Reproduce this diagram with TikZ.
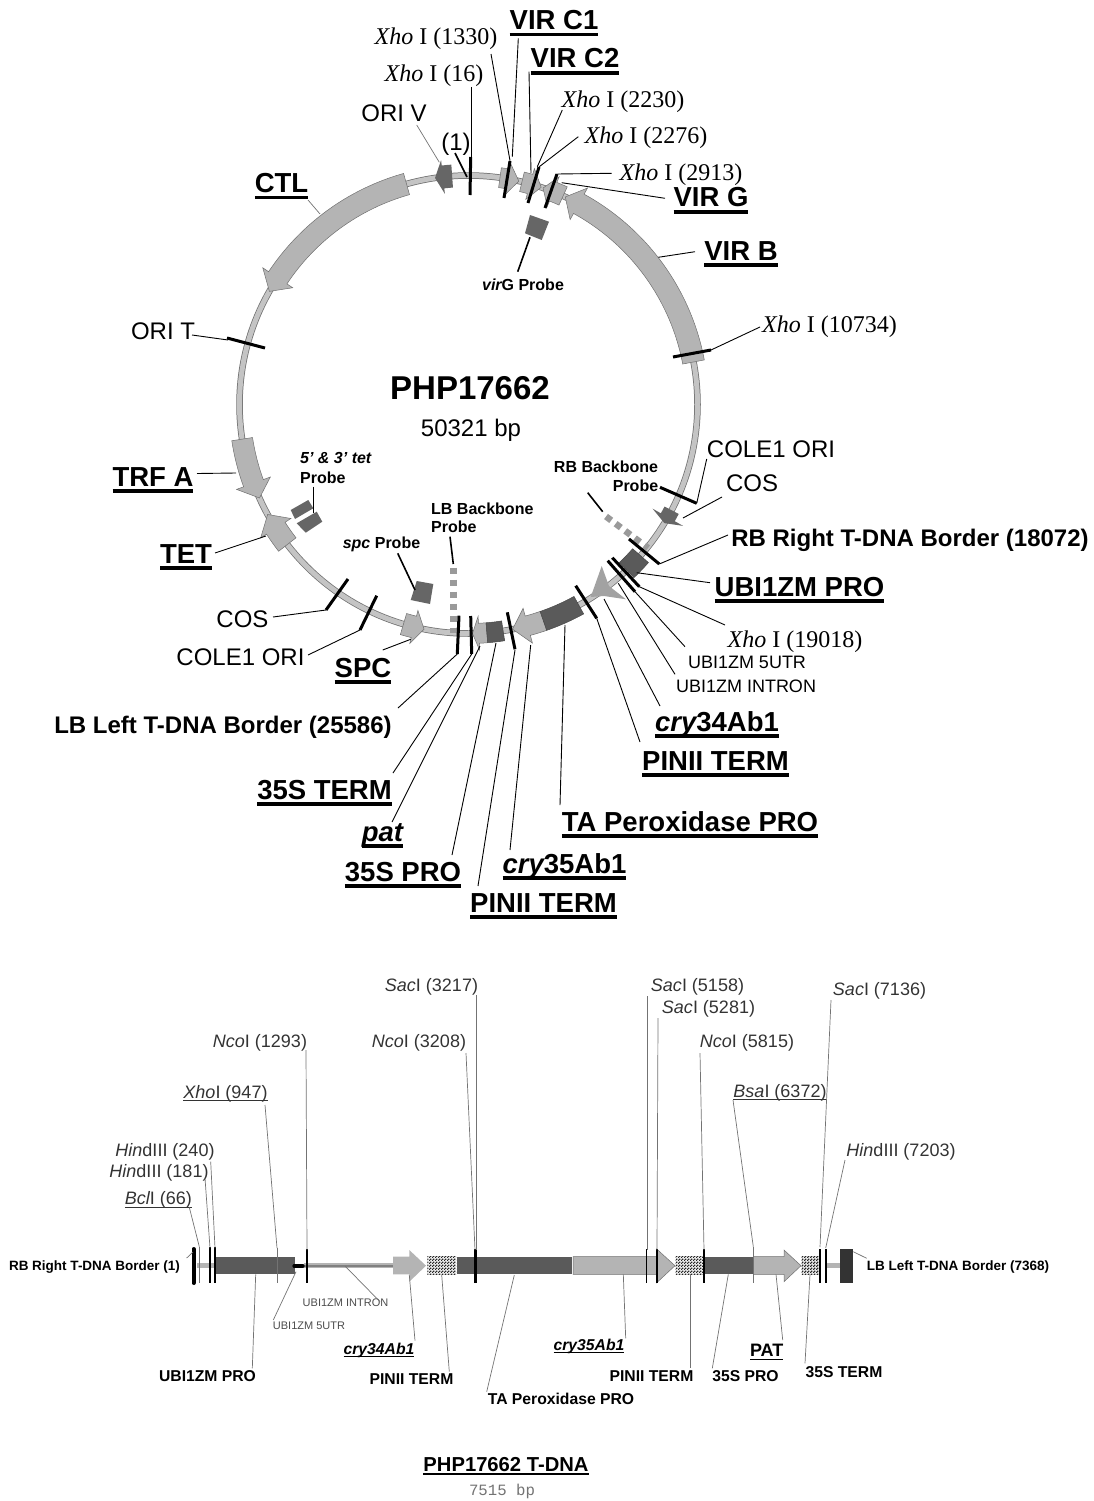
\documentclass[tikz,border=0pt]{standalone}
\usepackage{fontspec}
\setmainfont{Liberation Sans}
\newfontfamily\xhofont{Liberation Serif}
\newfontfamily\monofont{Liberation Mono}
\usetikzlibrary{patterns}
\definecolor{genelight}{HTML}{B4B4B4}
\definecolor{genedark}{HTML}{5A5A5A}
\definecolor{genemid}{HTML}{666666}
\definecolor{geneedge}{HTML}{707070}
\definecolor{ringgrey}{HTML}{C4C4C4}
\definecolor{probegrey}{HTML}{9A9A9A}
\pgfdeclarepatternformonly{finecheck}{\pgfqpoint{0pt}{0pt}}{\pgfqpoint{3pt}{3pt}}{\pgfqpoint{3pt}{3pt}}{%
  \pgfpathrectangle{\pgfqpoint{0pt}{0pt}}{\pgfqpoint{1.6pt}{1.6pt}}%
  \pgfpathrectangle{\pgfqpoint{1.5pt}{1.5pt}}{\pgfqpoint{1.6pt}{1.6pt}}%
  \pgfusepath{fill}}
\newbox\ulbox
\newcommand\ulbl[2][.13em]{\setbox\ulbox\hbox{#2}\dp\ulbox=0pt\vtop{\box\ulbox\kern.12em\hrule height #1}}
% gene on the ring: style, start, neck, tip, half body, half head
\newcommand\genearc[6]{\filldraw[#1] (#2:229-#5) arc[start angle=#2,end angle=#3,radius=229-#5]
  -- (#3:229-#6) -- (#4:229) -- (#3:229+#6) -- (#3:229+#5)
  arc[start angle=#3,end angle=#2,radius=229+#5] -- cycle;}
% box on the ring: style, start, end, half width
\newcommand\genebox[4]{\filldraw[#1] (#2:229-#4) arc[start angle=#2,end angle=#3,radius=229-#4]
  -- (#3:229+#4) arc[start angle=#3,end angle=#2,radius=229+#4] -- cycle;}
% line between two named ends
\newcommand\lead[4][leader]{\coordinate (#2s) at (#3); \coordinate (#2e) at (#4); \draw[#1] (#2s) -- (#2e);}
\begin{document}
\begin{tikzpicture}[x=1pt, y=-1pt,
    leader/.style={black, line width=0.9pt},
    thinlead/.style={black!55, line width=0.7pt},
    heavy/.style={black, line width=1.6pt},
    bar/.style={black, line width=3pt},
    tbar/.style={black, line width=1.6pt},
    light/.style={fill=genelight, draw=geneedge, line width=0.5pt},
    dark/.style={fill=genedark, draw=genedark!80!black, line width=0.5pt},
    midgene/.style={fill=genemid, draw=none},
    probe/.style={fill=genemid, draw=none},
    checker/.style={pattern=finecheck, pattern color=black!85},
    dashprobe/.style={probegrey, line width=6.5pt, dash pattern=on 6.5pt off 5.5pt},
    lbl/.style={anchor=base, inner sep=0pt, text=black},
    gene/.style={lbl, font=\fontsize{27.5}{30}\selectfont\bfseries},
    plain/.style={lbl, font=\fontsize{24}{26}\selectfont},
    xholbl/.style={lbl, font=\fontsize{24}{26}\selectfont\xhofont},
    border/.style={lbl, font=\fontsize{24}{26}\selectfont\bfseries},
    probelbl/.style={lbl, font=\fontsize{16}{18}\selectfont\bfseries},
    small/.style={lbl, font=\fontsize{18}{20}\selectfont},
    site/.style={lbl, text=black!80, font=\fontsize{18}{20}\selectfont},
    lowgene/.style={lbl, font=\fontsize{15.7}{18}\selectfont\bfseries},
    lowborder/.style={lbl, font=\fontsize{13.5}{16}\selectfont\bfseries},
    tiny/.style={lbl, text=black!70, font=\fontsize{11}{13}\selectfont}]
  \useasboundingbox (0,0) rectangle (1094,1501);

  % plasmid ring
  \begin{scope}[shift={(468.5,404.5)}, x=1pt, y=1pt]
    \draw[geneedge, line width=6.5pt] (0,0) circle[radius=229];
    \draw[ringgrey, line width=5pt] (0,0) circle[radius=229];
    \genearc{midgene}{94.1}{96.4}{98.4}{11.5}{17}
    \genearc{light}{82.1}{80.3}{77.3}{10}{17}
    \genearc{light}{76.5}{74.4}{71.5}{10}{16}
    \genearc{light}{65.6}{68.3}{71}{10}{16}
    \genearc{light}{10.7}{61.2}{65}{11}{18}
    \genearc{light}{105.7}{146.4}{150.4}{11}{18}
    \genearc{light}{188.7}{200.1}{204.1}{10.5}{18}
    \genearc{light}{217.7}{212.7}{208.7}{11}{18}
    \genearc{light}{253.5}{256.2}{258.8}{11}{17}
    \genearc{light}{274.6}{272.6}{271}{10}{17}
    \genebox{dark}{274.6}{278.7}{10}
    \genearc{light}{289.1}{285}{281.1}{10}{18}
    \genebox{dark}{289.1}{298.8}{10}
    \genebox{dark}{313.7}{318.7}{10.5}
    \genearc{midgene}{332.5}{330.5}{328.8}{8}{17.5}
  \end{scope}
  % cry34Ab1 head
  \fill[genelight!90!black] (590.7,597) -- (601.7,566) -- (609,586) -- (626,599.3) -- (604,596) -- cycle;

  % probes
  \fill[probe] (530,215) -- (549,221.7) -- (541.7,240) -- (525,233.3) -- cycle;
  \fill[probe] (416.7,581) -- (433.3,584) -- (430,604) -- (410.7,600) -- cycle;
  \fill[probe] (290.7,510) -- (308.3,500) -- (313.3,508.3) -- (295,519) -- cycle;
  \fill[probe] (296.7,523.3) -- (316.7,511.7) -- (322.3,521.7) -- (305.7,532.7) -- cycle;
  \coordinate (rbdashs) at (606,516.5);
  \coordinate (rbdashe) at (648,548);
  \draw[dashprobe] (rbdashs) -- (rbdashe);
  \coordinate (lbdashs) at (453.3,567.5);
  \coordinate (lbdashe) at (453.3,633);
  \draw[dashprobe] (lbdashs) -- (lbdashe);

  % site bars on the ring
  \lead[bar]{barone}{470.7,157}{470,195}
  \lead[bar]{barxa}{510,161}{504,198}
  \lead[bar]{barxb}{539,167}{528,203}
  \lead[bar]{barxc}{557,174}{545,208}
  \lead[bar]{barxd}{673,357}{711,350}
  \lead[bar]{barorit}{227,338}{265,348}
  \lead[bar]{barcosa}{348,579}{326,610}
  \lead[bar]{barcolea}{376.7,595.7}{360,630}
  \lead[bar]{barlb}{459,615.7}{457.3,654}
  \lead[bar]{bartt}{470.7,616}{471.7,654}
  \lead[bar]{barpa}{507.3,612.3}{515,649.3}
  \lead[bar]{barpb}{575.7,585.7}{596.7,618.3}
  \lead[bar]{barua}{607.7,560.7}{635,591.7}
  \lead[bar]{barub}{612.3,557.7}{639.3,586.7}
  \lead[bar]{barrb}{629,539}{659.3,564}
  \lead[bar]{barcolb}{660,487.3}{696.7,503.3}

  % plasmid labels
  \node[gene] (virca) at (554,29.3) {\ulbl{VIR C1}};
  \node[gene] (vircb) at (575,67.7) {\ulbl{VIR C2}};
  \node[xholbl] (xhoa) at (436,45) {{\itshape Xho} I (1330)};
  \node[xholbl] (xhob) at (434,81.7) {{\itshape Xho} I (16)};
  \node[plain] (one) at (456,150) {(1)};
  \node[plain] (oriv) at (394,121.7) {ORI V};
  \node[xholbl] (xhoc) at (623,107.3) {{\itshape Xho} I (2230)};
  \node[xholbl] (xhod) at (646,143) {{\itshape Xho} I (2276)};
  \node[xholbl] (xhoe) at (681,180) {{\itshape Xho} I (2913)};
  \node[gene] (virg) at (711,206.7) {\ulbl{VIR G}};
  \node[gene] (virb) at (741,260) {\ulbl{VIR B}};
  \node[gene] (ctl) at (281.5,192.3) {\ulbl{CTL}};
  \node[probelbl] (virgp) at (523,290) {{\itshape vir}G Probe};
  \node[lbl, font=\fontsize{33}{36}\selectfont\bfseries] (php) at (470,399) {PHP17662};
  \node[plain] (bp) at (471,436) {50321 bp};
  \node[xholbl] (xhof) at (829.5,332) {{\itshape Xho} I (10734)};
  \node[plain] (orit) at (163,339) {ORI T};
  \node[plain] (colea) at (771,457) {COLE1 ORI};
  \node[plain] (cosa) at (752,491) {COS};
  \node[probelbl] (rbpa) at (606,472) {RB Backbone};
  \node[probelbl] (rbpb) at (635.5,491) {Probe};
  \node[border] (rb) at (910,546) {RB Right T-DNA Border (18072)};
  \node[gene] (ubi) at (799.5,596) {\ulbl{UBI1ZM PRO}};
  \node[xholbl] (xhog) at (795,647) {{\itshape Xho} I (19018)};
  \node[small] (utr) at (747,668) {UBI1ZM 5UTR};
  \node[small] (intron) at (746,692) {UBI1ZM INTRON};
  \node[gene] (crya) at (717,731) {\ulbl{{\itshape cry}34Ab1}};
  \node[gene] (pina) at (715.5,770) {\ulbl{PINII TERM}};
  \node[gene] (ta) at (690,831) {\ulbl{TA Peroxidase PRO}};
  \node[gene] (cryb) at (564.5,873) {\ulbl{{\itshape cry}35Ab1}};
  \node[gene] (pinb) at (543.5,912) {\ulbl{PINII TERM}};
  \node[gene] (pro) at (403,881) {\ulbl{35S PRO}};
  \node[gene] (pat) at (382.5,841) {\ulbl{{\itshape pat}}};
  \node[gene] (term) at (324.5,799) {\ulbl{35S TERM}};
  \node[border] (lb) at (223,733) {LB Left T-DNA Border (25586)};
  \node[gene] (spc) at (363,677) {\ulbl{SPC}};
  \node[plain] (coleb) at (240.5,665) {COLE1 ORI};
  \node[plain] (cosb) at (242.5,627) {COS};
  \node[gene] (tet) at (186,563) {\ulbl{TET}};
  \node[gene] (trf) at (153,486) {\ulbl{TRF A}};
  \node[probelbl, anchor=base west] (tetpa) at (300,463.3) {{\itshape 5’ \& 3’ tet}};
  \node[probelbl, anchor=base west] (tetpb) at (300,483.3) {Probe};
  \node[probelbl] (spcp) at (381.5,548.3) {{\itshape spc} Probe};
  \node[probelbl, anchor=base west] (lbpa) at (431,514) {LB Backbone};
  \node[probelbl, anchor=base west] (lbpb) at (431,532.7) {Probe};

  % plasmid leaders
  \lead{lxhoa}{491,54}{510,160.7}
  \lead{lvirca}{518.3,38.3}{512.3,156.7}
  \lead{lvircb}{529,71.7}{531,173}
  \lead{lxhob}{471,87}{471,157}
  \lead[heavy]{lone}{455,153}{467,177}
  \lead[thinlead]{loriv}{416.7,125}{439.3,162.3}
  \lead{lxhoc}{562.3,110}{537.3,166.7}
  \lead{lxhod}{578.3,136.7}{539.3,166.7}
  \lead{lxhoe}{611.7,173.3}{557.3,174}
  \lead{lvirg}{665,198.3}{561.7,182.7}
  \lead{lvirb}{695,251.7}{658.3,257.3}
  \lead[thinlead]{lctl}{308,200}{320,214}
  \lead[heavy]{lvirgp}{530,237.3}{517.7,271.7}
  \lead{lxhof}{760,327}{711,350}
  \lead{lorit}{192,335}{228,340}
  \lead{lcola}{696.7,503.3}{706.7,459}
  \lead{lcosa}{683,518}{722,497}
  \lead[heavy]{lrbp}{587.7,492.7}{602.7,511.7}
  \lead{lrb}{659.3,564}{728,535}
  \lead{lubi}{636.7,572.7}{710,582.7}
  \lead{lxhog}{639.3,586.7}{725,625}
  \lead{lutr}{635,591.7}{685,646.7}
  \lead{lintron}{618.3,583.3}{675,674.3}
  \lead{lcrya}{604,599}{660,706}
  \lead{lpina}{596.7,618.3}{640,742}
  \lead{lta}{565,625}{560,805}
  \lead{lcryb}{530.7,645}{510,850}
  \lead{lpinb}{515,650}{478,886}
  \lead{lpro}{496,643}{452,855}
  \lead{lpat}{480,646}{392,822}
  \lead{lterm}{471.7,654}{393,773}
  \lead{llb}{457.3,654}{398,708}
  \lead{lspc}{410.7,639.3}{382.7,650}
  \lead{lcolb}{360,630}{308,655}
  \lead{lcosb}{326,610}{273,617}
  \lead{ltet}{266,536}{215,553}
  \lead{ltrf}{236,473}{197,473.5}
  \lead[heavy]{ltetp}{313.3,486.7}{313.3,513.3}
  \lead[heavy]{lspcp}{397.7,553.3}{415,590}
  \lead[heavy]{llbp}{450,536.7}{453.3,564}

  % T-DNA strip
  \coordinate (stripa) at (197,1265.7);
  \coordinate (stripb) at (216,1265.7);
  \draw[genelight, line width=4.5pt] (stripa) -- (stripb);
  \coordinate (stripc) at (304,1265.7);
  \coordinate (stripd) at (393,1265.7);
  \draw[genelight, line width=4.5pt] (stripc) -- (stripd);
  \draw[black!50, line width=2pt] (stripc) -- (stripd);
  \coordinate (stripe) at (825,1265.7);
  \coordinate (stripf) at (841,1265.7);
  \draw[genelight, line width=4.5pt] (stripe) -- (stripf);
  \fill[genedark] (216,1256.7) rectangle (295.3,1274.3);
  \fill[genelight] (393,1256.7) -- (409.3,1256.7) -- (409.3,1250) -- (426,1265.7) -- (409.3,1281.7) -- (409.3,1274.3) -- (393,1274.3) -- cycle;
  \fill[genelight!20!white] (427.3,1256.7) rectangle (456,1274.3);
  \fill[checker] (427.3,1256.7) rectangle (456,1274.3);
  \fill[genedark] (457,1256.7) rectangle (571.7,1274.3);
  \filldraw[light] (573,1256.7) -- (656.7,1256.7) -- (656.7,1249) -- (675,1265.7) -- (656.7,1282.7) -- (656.7,1274.3) -- (573,1274.3) -- cycle;
  \fill[genelight!20!white] (675.7,1256.7) rectangle (703.3,1274.3);
  \fill[checker] (675.7,1256.7) rectangle (703.3,1274.3);
  \fill[genedark] (705,1256.7) rectangle (753.3,1274.3);
  \filldraw[light] (753.3,1256.7) -- (784,1256.7) -- (784,1250) -- (801,1265.7) -- (784,1281.7) -- (784,1274.3) -- (753.3,1274.3) -- cycle;
  \fill[genelight!20!white] (801.7,1256.7) rectangle (819.3,1274.3);
  \fill[checker] (801.7,1256.7) rectangle (819.3,1274.3);
  \fill[black!80] (840.3,1249.3) rectangle (853.3,1282.7);
  \lead[black, line width=3.2pt, line cap=round]{blob}{294,1266}{303,1266}
  \lead[black, line width=4pt, line cap=round]{rbbar}{193.5,1249}{193.5,1283}

  % strip bars
  \lead[tbar]{sbh}{210,1247}{210,1283}
  \lead[tbar]{sbi}{215,1247}{215,1283}
  \lead[tbar]{sbn}{307,1249}{307,1283}
  \lead[line width=2.4pt]{sbs}{475.5,1249}{475.5,1283}
  \lead[tbar]{sbt}{646.5,1249}{646.5,1283}
  \lead[line width=2.2pt]{sbu}{657,1249}{657,1283}
  \lead[tbar]{sbv}{704,1249}{704,1283}
  \lead[tbar]{sbw}{820,1249}{820,1283}
  \lead[tbar]{sbx}{825.7,1249}{825.7,1283}

  % strip labels
  \node[site] (sacc) at (431.5,991) {{\itshape Sac}I (3217)};
  \node[site] (ncob) at (419,1047) {{\itshape Nco}I (3208)};
  \node[site] (ncoa) at (260,1047) {{\itshape Nco}I (1293)};
  \node[site] (xhol) at (225.5,1098) {\ulbl[.05em]{{\itshape Xho}I (947)}};
  \node[site] (hina) at (165,1156) {{\itshape Hin}dIII (240)};
  \node[site] (hinb) at (159,1177.3) {{\itshape Hin}dIII (181)};
  \node[site] (bcl) at (158.5,1204.7) {\ulbl[.05em]{{\itshape Bcl}I (66)}};
  \node[lowborder] (rbt) at (94.5,1270.7) {RB Right T-DNA Border (1)};
  \node[lowgene] (ubit) at (207.5,1381.7) {UBI1ZM PRO};
  \node[tiny] (intront) at (345.5,1306.3) {UBI1ZM INTRON};
  \node[tiny] (utrt) at (309,1329) {UBI1ZM 5UTR};
  \node[lowgene] (cryat) at (379,1354) {\ulbl[.08em]{{\itshape cry34Ab1}}};
  \node[lowgene] (pinat) at (411.5,1384.3) {PINII TERM};
  \node[lowgene] (tat) at (561,1404) {TA Peroxidase PRO};
  \node[lowgene] (crybt) at (589,1350) {\ulbl[.08em]{{\itshape cry35Ab1}}};
  \node[lowgene] (pinbt) at (651.5,1381.7) {PINII TERM};
  \node[lowgene] (prot) at (745.5,1381.7) {35S PRO};
  \node[lbl, font=\fontsize{18}{20}\selectfont\bfseries] (patt) at (766.7,1356.7) {\ulbl[.09em]{PAT}};
  \node[lowgene] (termt) at (844,1377.3) {35S TERM};
  \node[lowborder] (lbt) at (958,1270.7) {LB Left T-DNA Border (7368)};
  \node[site] (hinc) at (901,1156.7) {{\itshape Hin}dIII (7203)};
  \node[site] (sacd) at (879.5,995) {{\itshape Sac}I (7136)};
  \node[site] (saca) at (697.5,991) {{\itshape Sac}I (5158)};
  \node[site] (sacb) at (708.5,1013) {{\itshape Sac}I (5281)};
  \node[site] (ncoc) at (747,1047) {{\itshape Nco}I (5815)};
  \node[site] (bsa) at (780,1097) {\ulbl[.05em]{{\itshape Bsa}I (6372)}};
  \node[lbl, font=\fontsize{20.2}{22}\selectfont\bfseries] (phpt) at (506,1471) {\ulbl[.09em]{PHP17662 T-DNA}};
  \node[lbl, text=black!55, font=\fontsize{15.7}{18}\selectfont\monofont] (bpt) at (502,1495) {7515 bp};

  % strip leaders
  \lead[thinlead]{tsacc}{476,995}{476,1250}
  \lead[thinlead]{tncob}{466,1053}{475,1250}
  \lead[thinlead]{tncoa}{306,1050}{307,1250}
  \lead[thinlead]{txho}{265,1105}{277,1248}
  \lead[thinlead]{txhob}{277,1248}{277,1283}
  \lead[thinlead]{thina}{210.7,1161.7}{215,1248}
  \lead[thinlead]{thinb}{205,1178}{210,1248}
  \lead[thinlead]{tbcl}{189.3,1207.3}{199.3,1246.7}
  \lead[thinlead]{tbclb}{199.3,1246.7}{199.3,1283}
  \lead[thinlead]{trb}{186.7,1258}{193,1252}
  \lead[thinlead]{tubi}{255.7,1274.3}{252.3,1368.3}
  \lead[thinlead]{tutr}{296,1271.7}{273.3,1320}
  \lead[thinlead]{tintron}{345,1266}{380,1301.7}
  \lead[thinlead]{tcrya}{409.3,1275}{415,1340.7}
  \lead[thinlead]{tpina}{441.7,1275}{449.3,1371.7}
  \lead[thinlead]{tta}{514.3,1275}{486.7,1391.7}
  \lead[thinlead]{tcryb}{623.3,1274.3}{625.7,1338.3}
  \lead[thinlead]{tpinb}{690,1274.3}{690,1368.3}
  \lead[thinlead]{tpro}{728.3,1274.3}{712.3,1368.3}
  \lead[thinlead]{tpat}{776,1274.3}{782.7,1340}
  \lead[thinlead]{tterm}{810,1274.3}{805,1363.3}
  \lead[thinlead]{tbsa}{733,1100}{753.3,1246.7}
  \lead[thinlead]{tbsab}{753.3,1246.7}{753.3,1283}
  \lead[thinlead]{tsaca}{647,996}{647,1250}
  \lead[thinlead]{tsacb}{658,1018}{657,1250}
  \lead[thinlead]{tncoc}{700,1053}{704,1250}
  \lead[thinlead]{tsacd}{831,1000}{820,1247}
  \lead[thinlead]{thinc}{845,1160}{825.7,1248}
  \lead[thinlead]{tlb}{853.3,1251.7}{866.7,1258.3}
\end{tikzpicture}
\end{document}
